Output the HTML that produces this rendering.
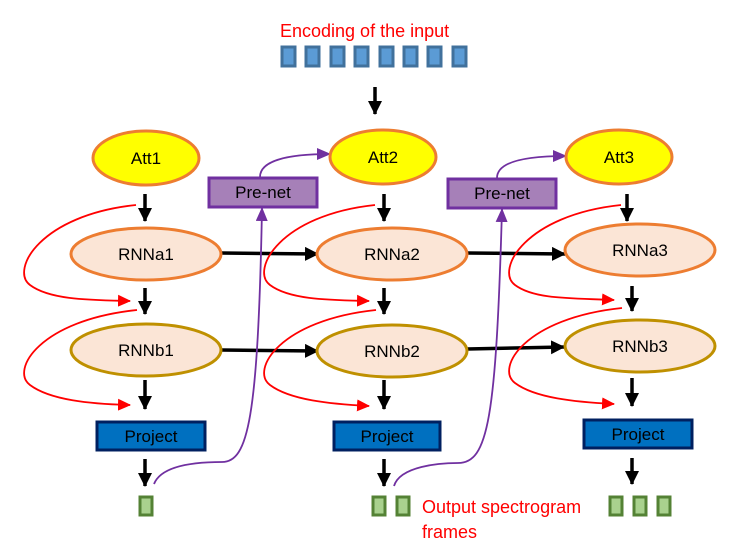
<!DOCTYPE html>
<html><head><meta charset="utf-8"><style>
html,body{margin:0;padding:0;background:#fff;}
svg{display:block;}
text{font-family:"Liberation Sans",sans-serif;}
</style></head><body>
<svg width="742" height="552" viewBox="0 0 742 552" xmlns="http://www.w3.org/2000/svg">
<defs>
<marker id="bk" markerWidth="14" markerHeight="14" refX="13" refY="7" orient="auto" markerUnits="userSpaceOnUse"><path d="M0,0 L14,7 L0,14z" fill="#000"/></marker>
<marker id="rd" markerWidth="13" markerHeight="12" refX="12" refY="6" orient="auto" markerUnits="userSpaceOnUse"><path d="M0,0 L13,6 L0,12z" fill="#f00"/></marker>
<marker id="pu" markerWidth="14" markerHeight="12" refX="13" refY="6" orient="auto" markerUnits="userSpaceOnUse"><path d="M0,0 L14,6 L0,12z" fill="#7030a0"/></marker>
</defs>
<text x="280" y="37" font-size="18" fill="#f00">Encoding of the input</text>
<g fill="#5b9bd5" stroke="#41719c" stroke-width="3">
<rect x="282" y="47" width="13" height="19"/><rect x="306" y="47" width="13" height="19"/><rect x="331" y="47" width="13" height="19"/><rect x="355" y="47" width="13" height="19"/><rect x="380" y="47" width="13" height="19"/><rect x="404" y="47" width="13" height="19"/><rect x="428" y="47" width="13" height="19"/><rect x="453" y="47" width="13" height="19"/>
</g>
<g stroke="#000" stroke-width="3.5" marker-end="url(#bk)">
<line x1="375" y1="87" x2="375" y2="114"/>
<line x1="145" y1="194" x2="145" y2="221"/><line x1="145" y1="288" x2="145" y2="314"/><line x1="145" y1="380" x2="145" y2="409"/><line x1="145" y1="459" x2="145" y2="486"/>
<line x1="384" y1="194" x2="384" y2="221"/><line x1="384" y1="288" x2="384" y2="314"/><line x1="384" y1="380" x2="384" y2="409"/><line x1="384" y1="459" x2="384" y2="486"/>
<line x1="627" y1="194" x2="627" y2="221"/><line x1="632" y1="286" x2="632" y2="311"/><line x1="632" y1="378" x2="632" y2="406"/><line x1="632" y1="458" x2="632" y2="484"/>
<line x1="221" y1="253" x2="318" y2="254"/><line x1="221" y1="350" x2="318" y2="351"/>
<line x1="467" y1="253" x2="565" y2="254"/><line x1="467" y1="349" x2="564" y2="347"/>
</g>
<g fill="none" stroke="#f00" stroke-width="1.8" marker-end="url(#rd)">
<path d="M136,205 C40,215 10,270 30,285 C50,300 90,300 130,301"/>
<path d="M137,310 C40,320 10,370 30,385 C50,400 90,404 130,405"/>
<path d="M375,205 C280,215 250,270 270,285 C290,300 330,300 369,301"/>
<path d="M376,310 C280,320 250,370 270,385 C290,400 330,404 369,406"/>
<path d="M621,205 C525,215 495,270 515,285 C535,300 575,298 614,300"/>
<path d="M622,308 C525,318 495,368 515,383 C535,398 575,402 614,404"/>
</g>
<g fill="none" stroke="#7030a0" stroke-width="1.8" marker-end="url(#pu)">
<path d="M154,484 C162,464 200,462 222,462 C248,462 258,420 262,208"/>
<path d="M260,177 C260,160 290,154 330,154"/>
<path d="M394,486 C400,466 440,463 458,463 C488,463 496,420 502,209"/>
<path d="M497,178 C497,162 525,156 566,156"/>
</g>
<g stroke="#ed7d31" stroke-width="3" fill="#ffff00">
<ellipse cx="146" cy="158" rx="53" ry="27"/><ellipse cx="383" cy="157" rx="53" ry="27"/><ellipse cx="619" cy="157" rx="53" ry="27"/>
</g>
<g stroke="#ed7d31" stroke-width="3" fill="#fbe5d6">
<ellipse cx="146" cy="254" rx="75" ry="26"/><ellipse cx="392" cy="254" rx="75" ry="26"/><ellipse cx="640" cy="250" rx="75" ry="26"/>
</g>
<g stroke="#bf9000" stroke-width="3" fill="#fbe5d6">
<ellipse cx="146" cy="350" rx="75" ry="26"/><ellipse cx="392" cy="351" rx="75" ry="26"/><ellipse cx="640" cy="346" rx="75" ry="26"/>
</g>
<g stroke="#7030a0" stroke-width="3" fill="#a680b8">
<rect x="209" y="178" width="108" height="29"/><rect x="448" y="179" width="108" height="29"/>
</g>
<g stroke="#002060" stroke-width="3" fill="#0070c0">
<rect x="97" y="422" width="108" height="28"/><rect x="334" y="422" width="106" height="28"/><rect x="584" y="420" width="108" height="28"/>
</g>
<g fill="#a9d18e" stroke="#548235" stroke-width="3">
<rect x="140" y="497" width="12" height="18"/><rect x="373" y="497" width="12" height="18"/><rect x="397" y="497" width="12" height="18"/>
<rect x="610" y="497" width="12" height="18"/><rect x="634" y="497" width="12" height="18"/><rect x="658" y="497" width="12" height="18"/>
</g>
<g font-size="17" text-anchor="middle" fill="#000">
<text x="146" y="164">Att1</text><text x="383" y="163">Att2</text><text x="619" y="163">Att3</text>
<text x="146" y="260">RNNa1</text><text x="392" y="260">RNNa2</text><text x="640" y="256">RNNa3</text>
<text x="146" y="356">RNNb1</text><text x="392" y="357">RNNb2</text><text x="640" y="352">RNNb3</text>
<text x="263" y="198">Pre-net</text><text x="502" y="199">Pre-net</text>
<text x="151" y="442">Project</text><text x="387" y="442">Project</text><text x="638" y="440">Project</text>
</g>
<text x="422" y="513" font-size="18" fill="#f00">Output spectrogram</text>
<text x="422" y="538" font-size="18" fill="#f00">frames</text>
</svg>
</body></html>
